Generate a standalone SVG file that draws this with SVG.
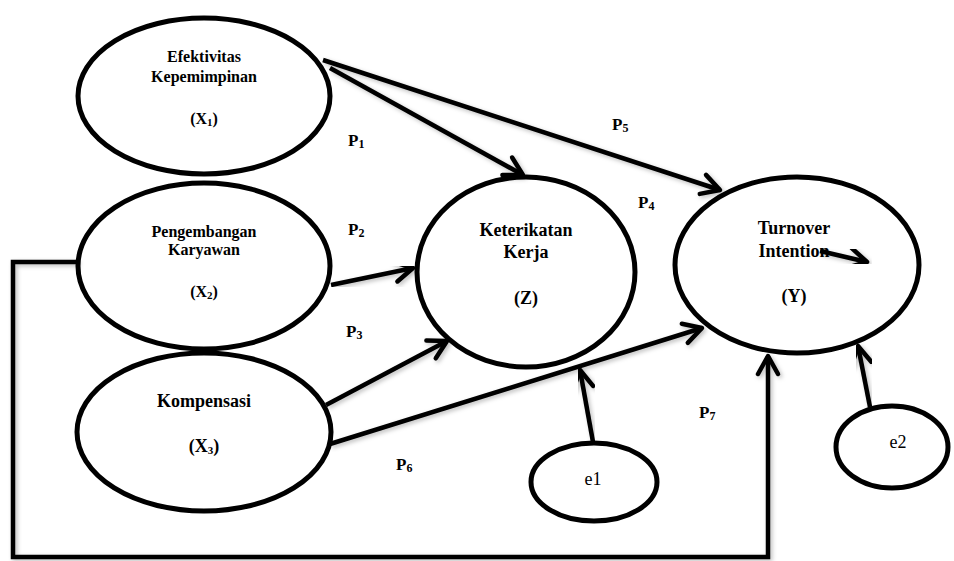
<svg xmlns="http://www.w3.org/2000/svg" width="954" height="561" viewBox="0 0 954 561">
<style>
  .node { fill: #fff; stroke: #000; stroke-width: 5; }
  .lbl { font-family: "Liberation Serif", "Times New Roman", serif; font-weight: bold; fill: #000; text-anchor: middle; }
  .s16 { font-size: 16px; }
  .s18 { font-size: 18px; }
  .err { font-family: "Liberation Serif", "Times New Roman", serif; font-size: 18px; fill: #000; text-anchor: middle; }
  .p { font-family: "Liberation Serif", "Times New Roman", serif; font-weight: bold; font-size: 17px; fill: #000; }
  .sub { font-size: 11px; }
  .psub { font-size: 12px; }
  .edge { fill: none; stroke: #000; stroke-width: 4.5; stroke-linecap: butt; marker-end: url(#arr); filter: url(#sh); }
</style>
<defs>
  <marker id="arr" viewBox="-24 -14 30 28" refX="0" refY="0" markerWidth="30" markerHeight="28" markerUnits="userSpaceOnUse" orient="auto">
    <path d="M-18,-10 L0,0 L-18,10" fill="none" stroke="#000" stroke-width="4.5" stroke-linecap="round" stroke-linejoin="round"/>
  </marker>
  <filter id="sh" x="-10%" y="-10%" width="120%" height="120%">
    <feDropShadow dx="2" dy="2" stdDeviation="2" flood-color="#000" flood-opacity="0.25"/>
  </filter>
</defs>
<rect width="954" height="561" fill="#fff"/>

<g id="X1">
  <ellipse class="node" cx="204" cy="96" rx="126" ry="78"/>
  <text class="lbl s16" x="204" y="62">Efektivitas</text>
  <text class="lbl s16" x="204" y="82">Kepemimpinan</text>
  <text class="lbl s16" x="204" y="124">(X<tspan class="sub" dy="2">1</tspan><tspan dy="-2">)</tspan></text>
</g>
<g id="X2">
  <ellipse class="node" cx="204" cy="266" rx="126" ry="83"/>
  <text class="lbl s16" x="204" y="237">Pengembangan</text>
  <text class="lbl s16" x="204" y="255">Karyawan</text>
  <text class="lbl s16" x="204" y="297">(X<tspan class="sub" dy="2">2</tspan><tspan dy="-2">)</tspan></text>
</g>
<g id="X3">
  <ellipse class="node" cx="204" cy="432" rx="127" ry="79"/>
  <text class="lbl s18" x="204" y="407">Kompensasi</text>
  <text class="lbl s18" x="204" y="452">(X<tspan class="sub" dy="2">3</tspan><tspan dy="-2">)</tspan></text>
</g>
<g id="Z">
  <ellipse class="node" cx="526" cy="272" rx="109" ry="95"/>
  <text class="lbl s18" x="526" y="236">Keterikatan</text>
  <text class="lbl s18" x="526" y="258">Kerja</text>
  <text class="lbl s18" x="526" y="304">(Z)</text>
</g>
<g id="Y">
  <ellipse class="node" cx="797" cy="265" rx="122" ry="88"/>
  <text class="lbl s18" x="794" y="234">Turnover</text>
  <text class="lbl s18" x="794" y="257">Intention</text>
  <text class="lbl s18" x="794" y="302">(Y)</text>
</g>
<g id="e1">
  <ellipse class="node" cx="594" cy="482" rx="63" ry="39"/>
  <text class="err" x="593" y="485">e1</text>
</g>
<g id="e2">
  <ellipse class="node" cx="892" cy="447" rx="56" ry="41"/>
  <text class="err" x="898" y="448">e2</text>
</g>

<g id="connectors">
  <path class="edge" d="M330,68 L523,175"/>
  <path class="edge" d="M323,60 L720,190"/>
  <path class="edge" d="M331,285 L413,268"/>
  <path class="edge" d="M326,405 L447,341"/>
  <path class="edge" d="M330,444 L702,328"/>
  <path class="edge" d="M593,442 L580,370"/>
  <path class="edge" d="M870,407 L858,346"/>
  <path class="edge" d="M78,262 H13 V557 H768 V356"/>
  <path class="edge" d="M820,251 L867,262"/>
</g>

<g id="labels">
  <text class="p" x="348" y="146">P<tspan class="psub" dy="2">1</tspan></text>
  <text class="p" x="348" y="235">P<tspan class="psub" dy="2">2</tspan></text>
  <text class="p" x="346" y="337">P<tspan class="psub" dy="2">3</tspan></text>
  <text class="p" x="638" y="208">P<tspan class="psub" dy="2">4</tspan></text>
  <text class="p" x="612" y="130">P<tspan class="psub" dy="2">5</tspan></text>
  <text class="p" x="396" y="470">P<tspan class="psub" dy="2">6</tspan></text>
  <text class="p" x="699" y="418">P<tspan class="psub" dy="2">7</tspan></text>
</g>
</svg>
